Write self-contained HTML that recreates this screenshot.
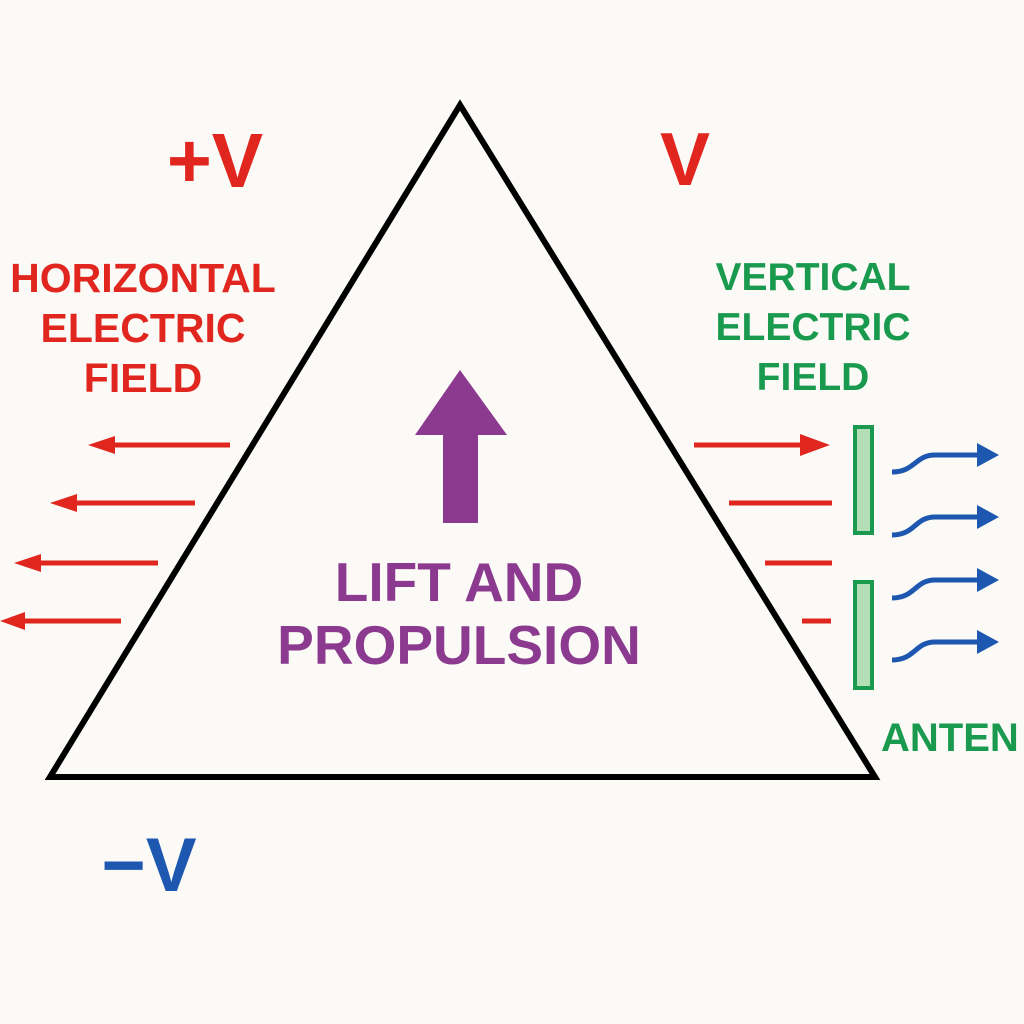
<!DOCTYPE html>
<html><head><style>
html,body{margin:0;padding:0;background:#fbfaf6;}
svg{display:block;}
text{font-family:"Liberation Sans",sans-serif;font-weight:bold;}
</style></head><body>
<svg width="1024" height="1024" viewBox="0 0 1024 1024">
<rect width="1024" height="1024" fill="#fbfaf6"/>
<polygon points="460,105 50,777 875,777" fill="none" stroke="#000" stroke-width="6" stroke-linejoin="miter"/>
<polygon points="443,523 478,523 478,435 507,435 460,370 415,435 443,435" fill="#8b3a8f"/>
<text x="459" y="601" font-size="55" fill="#8b3a8f" text-anchor="middle">LIFT AND</text>
<text x="459" y="664" font-size="55" fill="#8b3a8f" text-anchor="middle">PROPULSION</text>
<text x="215" y="187" font-size="77" fill="#e0261f" text-anchor="middle">+V</text>
<text x="685" y="185" font-size="75" fill="#e0261f" text-anchor="middle">V</text>
<text x="149" y="891" font-size="76" fill="#1d57b0" text-anchor="middle">−V</text>
<g font-size="41" fill="#e0261f" text-anchor="middle">
<text x="143" y="292">HORIZONTAL</text>
<text x="143" y="342">ELECTRIC</text>
<text x="143" y="392">FIELD</text>
</g>
<g font-size="39" fill="#1a9a4e" text-anchor="middle">
<text x="813" y="290">VERTICAL</text>
<text x="813" y="340">ELECTRIC</text>
<text x="813" y="390">FIELD</text>
<text x="881" y="751" font-size="40" text-anchor="start">ANTEN</text>
</g>
<g stroke="#e0261f" stroke-width="5" fill="#e0261f">
<line x1="230" y1="445" x2="110" y2="445"/><polygon points="88,445 115,436 115,454" stroke="none"/>
<line x1="195" y1="503" x2="72" y2="503"/><polygon points="50,503 77,494 77,512" stroke="none"/>
<line x1="158" y1="563" x2="36" y2="563"/><polygon points="14,563 41,554 41,572" stroke="none"/>
<line x1="121" y1="621" x2="20" y2="621"/><polygon points="0,621 25,612 25,630" stroke="none"/>
<line x1="694" y1="445" x2="805" y2="445"/><polygon points="830,445 800,434 800,456" stroke="none"/>
<line x1="729" y1="503" x2="832" y2="503"/>
<line x1="765" y1="563" x2="832" y2="563"/>
<line x1="802" y1="621" x2="831" y2="621"/>
</g>
<rect x="855" y="427" width="17" height="106" fill="#b4dfb6" stroke="#1a9a4e" stroke-width="4"/>
<rect x="855" y="582" width="17" height="106" fill="#b4dfb6" stroke="#1a9a4e" stroke-width="4"/>
<g stroke="#1d57b0" stroke-width="5" fill="none">
<path d="M892,472 C915,472 915,455 935,455 L980,455"/>
<path d="M892,535 C915,535 915,517 935,517 L980,517"/>
<path d="M892,598 C915,598 915,580 935,580 L980,580"/>
<path d="M892,660 C915,660 915,642 935,642 L980,642"/>
</g>
<g fill="#1d57b0">
<polygon points="999,455 977,443 977,467"/>
<polygon points="999,517 977,505 977,529"/>
<polygon points="999,580 977,568 977,592"/>
<polygon points="999,642 977,630 977,654"/>
</g>
</svg>
</body></html>
